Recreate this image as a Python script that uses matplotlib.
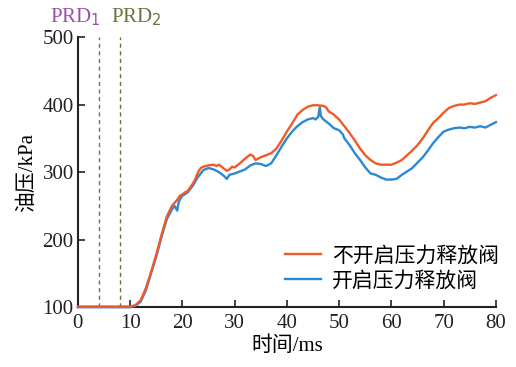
import matplotlib.pyplot as plt

plt.rcParams['font.family'] = ['Liberation Serif', 'Noto Sans CJK SC']
plt.rcParams['axes.unicode_minus'] = False

# 不开启压力释放阀 (ms, kPa)
t_off = [0, 10, 11, 12, 13, 14, 15, 16, 17, 18, 19, 19.5, 20, 20.5, 21, 22, 22.5,
         23, 23.5, 24, 25, 26, 26.5, 27, 27.5, 28, 28.5, 29, 29.5, 30, 31, 32, 33,
         33.5, 34, 35, 36, 37, 38, 39, 40, 41, 42, 43, 44, 45, 46, 47, 47.5, 48,
         49, 50, 51, 52, 53, 54, 55, 56, 57, 58, 59, 60, 61, 62, 63, 64, 65, 66,
         67, 68, 69, 70, 71, 72, 73, 74, 75, 76, 77, 78, 79, 80]
p_off = [101, 101, 103, 110, 128, 152, 178, 207, 234, 250, 259, 265, 267, 270,
         272, 283, 290, 300, 306, 308, 310, 311, 309, 311, 308, 305, 302, 304,
         308, 307, 313, 320, 326, 324, 318, 322, 325, 328, 335, 347, 360, 372,
         385, 392, 397, 399, 399, 398, 396, 390, 385, 378, 368, 358, 347, 335,
         325, 318, 313, 311, 311, 311, 314, 318, 325, 332, 340, 350, 362, 373,
         380, 388, 395, 398, 400, 400, 402, 401, 403, 405, 410, 414]

# 开启压力释放阀
t_on = [0, 10, 11, 12, 13, 14, 15, 16, 17, 18, 18.5, 19, 19.3, 19.7, 20, 21, 22,
        23, 24, 25, 26, 27, 28, 28.5, 29, 30, 31, 32, 33, 34, 35, 36, 37, 38, 39,
        40, 41, 42, 43, 44, 45, 45.5, 46, 46.3, 46.5, 47, 48, 49, 50, 50.7, 51,
        52, 53, 54, 55, 56, 57, 58, 59, 60, 61, 62, 63, 64, 65, 66, 67, 68, 69,
        70, 71, 72, 73, 74, 75, 76, 77, 78, 79, 80]
p_on = [100, 100, 102, 108, 125, 150, 175, 204, 230, 245, 250, 243, 256, 262,
        265, 270, 280, 293, 303, 306, 304, 300, 294, 290, 296, 298, 301, 304,
        310, 313, 312, 309, 313, 325, 338, 350, 360, 368, 374, 378, 380, 378,
        382, 396, 383, 378, 372, 365, 362, 356, 350, 340, 328, 318, 307, 298,
        296, 292, 289, 289, 290, 296, 301, 306, 314, 322, 332, 343, 352, 360,
        363, 365, 366, 365, 367, 366, 368, 366, 370, 374]

prd_t = [4, 8]
prd_names = ['PRD$_1$', 'PRD$_2$']
prd_colors = ['#9B4FA8', '#66753A']

fig = plt.figure(figsize=(5.16, 3.67), dpi=100)
ax = fig.add_axes([0.151, 0.163, 0.810, 0.736])

ax.plot(t_on, p_on, color='#2C88D0', lw=1.7, clip_on=False, zorder=3,
        label='开启压力释放阀')
ax.plot(t_off, p_off, color='#F05A28', lw=1.7, clip_on=False, zorder=4,
        label='不开启压力释放阀')

for tx, c in zip(prd_t, prd_colors):
    ax.axvline(tx, color=c, lw=1.0, dashes=(3, 2.5), zorder=2)

ax.text(prd_t[0] + 0.35, 522, prd_names[0], color=prd_colors[0], fontsize=15,
        ha='right', va='baseline')
ax.text(prd_t[1] - 1.7, 522, prd_names[1], color=prd_colors[1], fontsize=15,
        ha='left', va='baseline')

ax.set_xlim(0, 80)
ax.set_ylim(100, 500)
ax.set_xticks(range(0, 81, 10))
ax.set_yticks(range(100, 501, 100))
ax.tick_params(direction='in', length=5, width=1.2, labelsize=15, colors='#222222')
ax.tick_params(axis='x', pad=5)
ax.tick_params(axis='y', pad=3)
for s in ['top', 'right']:
    ax.spines[s].set_visible(False)
for s in ['left', 'bottom']:
    ax.spines[s].set_linewidth(1.5)
    ax.spines[s].set_color('#222222')

ax.set_xlabel('时间/ms', fontsize=15, labelpad=2)
ax.set_ylabel('油压/kPa', fontsize=15, labelpad=4)

h, l = ax.get_legend_handles_labels()
fig.legend(h[::-1], l[::-1], loc='upper left', bbox_to_anchor=(0.552, 0.328),
           frameon=False, fontsize=15, handlelength=1.75, handletextpad=0.5,
           labelspacing=0.25, borderpad=0, borderaxespad=0)

fig.savefig('out.png', dpi=100)
